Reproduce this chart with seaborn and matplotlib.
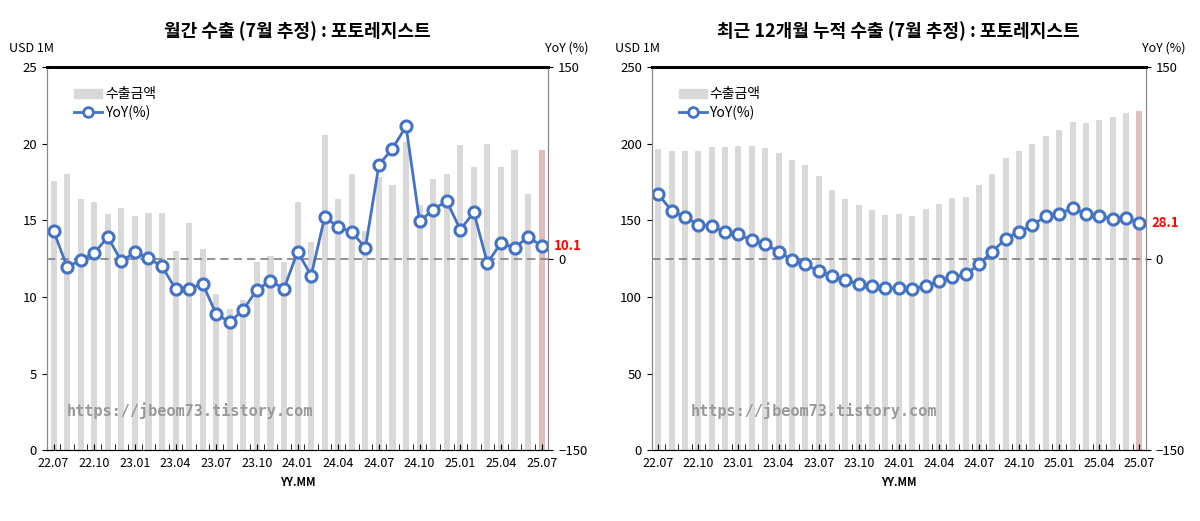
import numpy as np
import pandas as pd
import seaborn as sns
import matplotlib.pyplot as plt
from matplotlib.lines import Line2D
from matplotlib.patches import Patch

plt.rcParams['font.family'] = ['Noto Sans CJK JP', 'Noto Sans CJK KR', 'DejaVu Sans']

months = [f'{y:02d}.{m:02d}' for y in range(22, 26) for m in range(1, 13)][6:43]

monthly_export = [17.6, 18.0, 16.4, 16.2, 15.4, 15.8, 15.3, 15.5, 15.5, 13.0,
                  14.8, 13.1, 10.2, 9.2, 9.8, 12.3, 12.7, 12.3, 16.2, 13.6,
                  20.6, 16.4, 18.0, 14.3, 17.8, 17.3, 20.1, 16.0, 17.7, 18.0,
                  19.9, 18.5, 20.0, 18.5, 19.6, 16.7, 19.6]
monthly_yoy = [21.7, -6.5, -1.3, 4.4, 17.0, -2.0, 5.0, 0.3, -6.0, -23.8,
               -23.5, -19.6, -43.6, -49.6, -40.0, -24.3, -17.5, -23.5, 5.5, -13.3,
               32.6, 24.8, 20.9, 8.4, 73.6, 86.2, 103.7, 29.2, 38.4, 45.2,
               22.7, 36.3, -3.4, 12.3, 8.6, 17.0, 10.1]

rolling_export = [196.3, 195.0, 195.0, 195.4, 198.0, 198.0, 198.5, 198.5, 197.4, 193.7,
                  189.3, 186.0, 178.7, 169.8, 163.7, 159.8, 156.5, 153.7, 154.3, 152.6,
                  157.2, 160.4, 164.3, 165.0, 172.8, 180.4, 191.0, 195.0, 199.8, 205.4,
                  209.3, 214.1, 213.5, 215.4, 217.2, 219.8, 221.1]
rolling_yoy = [50.3, 37.6, 32.6, 26.4, 25.8, 20.9, 19.0, 14.4, 11.5, 5.5,
               -0.8, -4.4, -9.7, -13.6, -17.0, -19.6, -21.7, -23.2, -23.2, -23.8,
               -21.1, -17.8, -14.4, -12.3, -4.4, 5.5, 15.7, 20.9, 26.4, 33.2,
               34.7, 40.0, 34.7, 33.2, 31.3, 32.1, 28.1]

BAR = '#d9d9d9'
LAST = '#e6b8b7'
LINE = '#4472c4'

fig = plt.figure(figsize=(12, 5.21), dpi=100)


def draw(rect, title, values, yoy, ymax, wm_x):
    ax = fig.add_axes(rect)
    df = pd.DataFrame({'month': months, 'value': values})
    colors = [BAR] * (len(months) - 1) + [LAST]
    sns.barplot(data=df, x='month', y='value', hue='month', palette=colors,
                legend=False, width=0.45, ax=ax)
    ax.set_ylim(0, ymax)
    ax.set_xlim(-0.5, len(months) - 0.5)
    ax.set_yticks(np.linspace(0, ymax, 6))
    ax.set_xticks(range(0, len(months), 3))
    ax.set_xticklabels(months[::3])
    ax.set_xticks(np.arange(-0.5, len(months), 1), minor=True)
    ax.tick_params(axis='x', which='both', length=4, direction='in', labelsize=9, pad=5)
    ax.tick_params(axis='y', labelsize=9.5)
    ax.set_xlabel('YY.MM', fontsize=8, fontweight='bold')
    ax.set_ylabel('')
    for s in ['left', 'right']:
        ax.spines[s].set_color('#888888')
    ax.spines['top'].set_linewidth(2)
    ax.spines['bottom'].set_linestyle((0, (5, 3)))
    ax.set_title(title, fontsize=13, fontweight='bold', pad=22)
    ax.text(-0.075, 1.04, 'USD 1M', transform=ax.transAxes, ha='left', fontsize=9)
    ax.text(wm_x, 0.09, 'https://jbeom73.tistory.com', transform=ax.transAxes,
            fontsize=11, color='#999999', family='DejaVu Sans Mono', fontweight='bold')

    ax2 = ax.twinx()
    sns.lineplot(x=np.arange(len(months)), y=yoy, ax=ax2, color=LINE, lw=2,
                 marker='o', markersize=8, markerfacecolor='white',
                 markeredgecolor=LINE, markeredgewidth=2.2)
    ax2.set_ylim(-150, 150)
    ax2.set_yticks([-150, 0, 150])
    ax2.tick_params(axis='y', labelsize=9.5)
    ax2.axhline(0, color='#808080', ls=(0, (5, 3)), lw=1.2, zorder=0)
    ax2.spines['right'].set_color('#888888')
    ax2.spines['left'].set_color('#888888')
    ax2.spines['top'].set_linewidth(2)
    ax2.text(len(months) - 0.1, yoy[-1], f'{yoy[-1]}', color='red',
             fontsize=9.5, fontweight='bold', va='center')
    ax2.text(1.08, 1.04, 'YoY (%)', transform=ax2.transAxes, ha='right', fontsize=9)

    handles = [Patch(color=BAR, label='수출금액'),
               Line2D([], [], color=LINE, lw=2, marker='o', markersize=7,
                      markerfacecolor='white', markeredgewidth=2, label='YoY(%)')]
    ax2.legend(handles=handles, loc='upper left', bbox_to_anchor=(0.03, 0.98),
               frameon=False, fontsize=10, handlelength=2, labelspacing=0.3,
               handletextpad=0.2)


draw([0.039, 0.136, 0.418, 0.735], '월간 수출 (7월 추정) : 포토레지스트',
     monthly_export, monthly_yoy, 25, 0.04)
draw([0.543, 0.136, 0.412, 0.735], '최근 12개월 누적 수출 (7월 추정) : 포토레지스트',
     rolling_export, rolling_yoy, 250, 0.08)

fig.savefig('out.png', dpi=100)
